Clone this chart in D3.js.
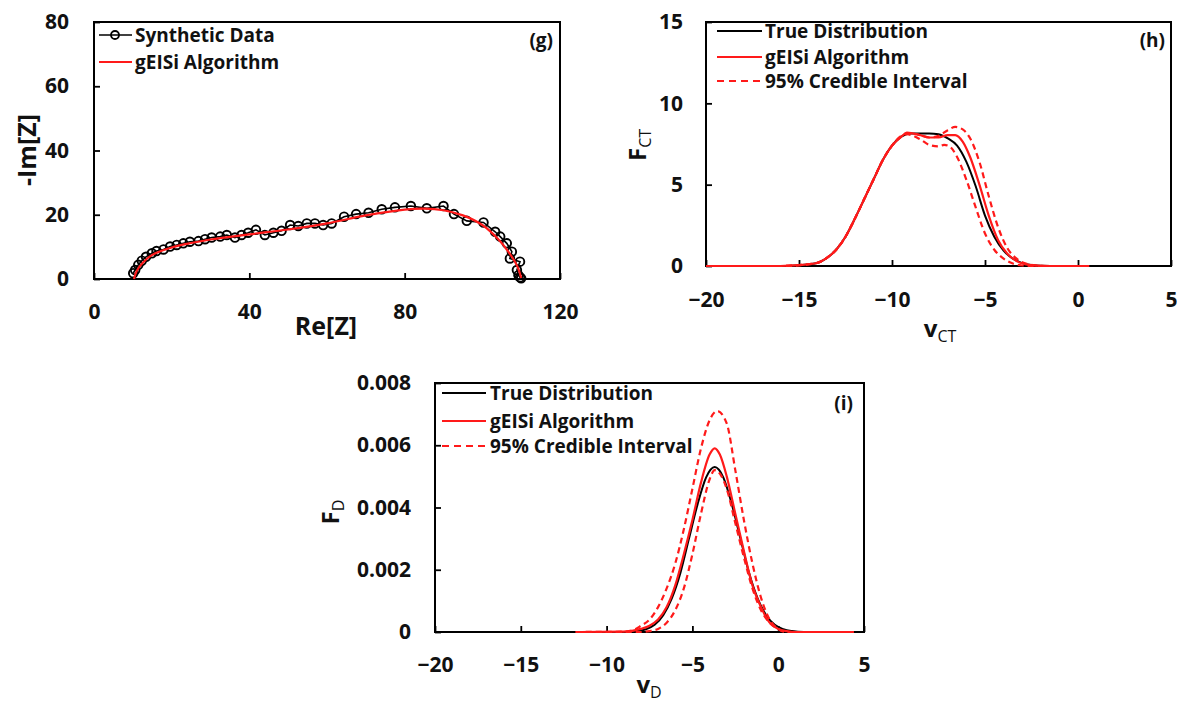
<!DOCTYPE html>
<html><head><meta charset="utf-8">
<script src="https://cdn.jsdelivr.net/npm/d3@7"></script>
<style>
body{margin:0;background:#fff;}
svg{display:block;font-family:"Open Sans",sans-serif;font-weight:700;}
</style></head>
<body><svg id="c" width="1177" height="704"></svg>
<script>
// ---------- Panel (g): Nyquist ----------
const gSynthRe = [10.1,10.6,11.4,12.3,13.4,14.9,16.1,17.9,19.6,21.3,23.0,24.7,26.9,28.6,30.3,32.5,34.2,36.3,38.0,39.7,41.7,44.0,46.2,48.3,50.5,52.6,54.8,56.9,59.0,61.2,64.4,67.5,70.7,74.1,77.5,81.6,85.7,90.0,92.7,96.0,100.3,103.3,104.6,106.3,107.6,107.1,109.7,108.9,109.3,109.7,110.0];
const gSynthIm = [1.8,2.8,4.4,5.7,6.9,8.0,8.7,9.2,10.1,10.6,11.1,11.6,11.8,12.4,12.9,13.2,13.7,12.9,13.7,14.4,15.3,13.7,14.4,15.0,16.8,16.5,17.3,17.3,16.8,17.3,19.4,20.2,20.6,21.7,22.3,22.7,22.0,22.7,20.2,18.1,17.6,14.7,13.2,11.1,8.5,6.4,5.4,2.8,1.2,0.5,0.2];
const gFitRe = [10.3,11.0,12.5,15,20,25,30,40,50,60,70,80,85,90,95,100,104,107,109,110];
const gFitIm = [0,2.5,5.0,7.5,9.8,11.2,12.3,13.9,15.4,17.3,19.8,21.6,21.9,21.4,19.8,16.8,12.5,8.0,4.0,0.3];
const gXTicks = [0,40,80,120];
const gYTicks = [0,20,40,60,80];

// ---------- Panel (h): F_CT ----------
const hTrueV = [-16,-15,-14,-13.5,-13,-12.5,-12,-11.5,-11,-10.5,-10,-9.5,-9,-8.5,-8,-7.5,-7,-6.5,-6,-5.5,-5,-4.5,-4,-3.5,-3,-2.5,-2,-1.5];
const hTrueF = [0,0.05,0.2,0.5,1.0,1.8,2.9,4.1,5.3,6.5,7.4,7.95,8.15,8.15,8.15,8.1,7.85,7.4,6.4,4.9,3.1,1.8,0.95,0.45,0.18,0.06,0.01,0];
const hFitV = [-20,-16,-15,-14,-13.5,-13,-12.5,-12,-11.5,-11,-10.5,-10,-9.5,-9.2,-8.5,-8,-7.5,-7,-6.6,-6.2,-5.8,-5.3,-4.8,-4.3,-3.8,-3.3,-2.8,-2.2,-1.5,0.6];
const hFitF = [0,0,0.05,0.2,0.5,1.0,1.8,2.9,4.1,5.3,6.5,7.4,7.95,8.2,8.05,7.9,7.9,8.05,8.05,7.65,6.7,5.0,3.1,1.6,0.75,0.3,0.1,0.02,0,0];
const hUpV = [-20,-16,-15,-14,-13.5,-13,-12.5,-12,-11.5,-11,-10.5,-10,-9.5,-9,-8.5,-8,-7.5,-7,-6.6,-6.2,-5.8,-5.3,-4.8,-4.3,-3.8,-3.3,-2.8,-2.3,-1.5,0.6];
const hUpF = [0,0,0.05,0.2,0.5,1.0,1.8,2.9,4.1,5.3,6.5,7.4,8.0,8.15,8.05,7.9,8.0,8.35,8.55,8.4,7.85,6.4,4.3,2.4,1.1,0.45,0.15,0.04,0,0];
const hLoV = [-20,-16,-15,-14,-13.5,-13,-12.5,-12,-11.5,-11,-10.5,-10,-9.5,-9.2,-8.5,-8,-7.5,-7.2,-6.9,-6.5,-6,-5.5,-5,-4.5,-4,-3.5,-3,-2.5,0.6];
const hLoF = [0,0,0.05,0.2,0.5,1.0,1.8,2.9,4.1,5.3,6.5,7.4,7.95,8.1,7.8,7.45,7.35,7.45,7.35,6.7,5.3,3.6,2.0,1.0,0.45,0.15,0.03,0,0];
const hXTicks = [-20,-15,-10,-5,0,5];
const hYTicks = [0,5,10,15];

// ---------- Panel (i): F_D ----------
const iTrueV = [-11.8,-9,-8.2,-7.7,-7.2,-6.7,-6.2,-5.7,-5.2,-4.7,-4.2,-3.7,-3.2,-2.7,-2.2,-1.7,-1.2,-0.7,-0.2,0.3,0.8,1.5,4.4];
const iTrueF = [0,0,0.00003,0.00009,0.00023,0.00054,0.00108,0.0019,0.0030,0.0041,0.00497,0.0053,0.00497,0.0041,0.0030,0.0019,0.00108,0.00054,0.00023,0.00009,0.00003,0,0];
const iFitV = [-11.8,-9,-8,-7.5,-7,-6.5,-6,-5.5,-5,-4.5,-4,-3.7,-3.4,-3,-2.5,-2,-1.5,-1,-0.5,0,0.5,1,4.4];
const iFitF = [0,0.00001,0.0001,0.0002,0.0004,0.0008,0.0015,0.0025,0.0036,0.0048,0.0057,0.0059,0.0057,0.0050,0.0038,0.0026,0.0015,0.0008,0.0003,0.0001,0.00003,0,0];
const iUpV = [-11.8,-9,-8.5,-8,-7.5,-7,-6.5,-6,-5.5,-5,-4.5,-4,-3.55,-3,-2.5,-2,-1.5,-1,-0.5,0,0.5,4.4];
const iUpF = [0,0.00001,0.00005,0.0002,0.0004,0.0008,0.0014,0.0022,0.0033,0.0046,0.0059,0.0068,0.0071,0.0067,0.0052,0.0036,0.0022,0.0011,0.0004,0.0001,0,0];
const iLoV = [-11.8,-8,-7.5,-7,-6.5,-6,-5.5,-5,-4.5,-4,-3.7,-3.3,-3,-2.5,-2,-1.5,-1,-0.5,0,0.5,4.4];
const iLoF = [0,0,0.00003,0.0001,0.0003,0.0007,0.0014,0.0025,0.0038,0.0049,0.0052,0.0050,0.0046,0.0035,0.0024,0.0014,0.0007,0.0003,0.0001,0,0];
const iXTicks = [-20,-15,-10,-5,0,5];
const iYTicks = [0,0.002,0.004,0.006,0.008];

const legendDist = ["True Distribution","gEISi Algorithm","95% Credible Interval"];
const legendG = ["Synthetic Data","gEISi Algorithm"];

const RED = "#ff1a1a";
const FONT = "Open Sans";
const svg = d3.select("#c");
const zip = (a,b) => a.map((v,k)=>[v,b[k]]);

function frame(p){
  const g = svg.append("g");
  const [x0,x1] = p.x.range(), [y0,y1] = p.y.range();
  const ax = g.append("g").attr("transform",`translate(0,${y0})`)
    .call(d3.axisBottom(p.x).tickValues(p.xt).tickSizeInner(-6).tickSizeOuter(0).tickPadding(p.xpad).tickFormat(p.xf||d3.format("d")));
  const ay = g.append("g").attr("transform",`translate(${x0},0)`)
    .call(d3.axisLeft(p.y).tickValues(p.yt).tickSizeInner(-6).tickSizeOuter(0).tickPadding(p.ypad).tickFormat(p.yf||d3.format("d")));
  [ax,ay].forEach(a=>{
    a.select(".domain").remove();
    a.selectAll("line").attr("stroke","#000").attr("stroke-width",1.8);
    a.selectAll("text").attr("font-size",21).attr("font-family",FONT).attr("font-weight",700).attr("fill","#111");
  });
  g.append("rect").attr("x",x0).attr("y",y1).attr("width",x1-x0).attr("height",y0-y1)
    .attr("fill","none").attr("stroke","#000").attr("stroke-width",2);
  return g;
}

function curve(p, xs, ys, color, dash, w){
  const line = d3.line().x(d=>p.x(d[0])).y(d=>p.y(d[1])).curve(d3.curveMonotoneX);
  svg.append("path").datum(zip(xs,ys)).attr("d",line).attr("fill","none")
    .attr("stroke",color).attr("stroke-width",w||2.2).attr("stroke-dasharray",dash||null);
}

// ----- g -----
const pg = {x:d3.scaleLinear([0,120],[94,560]), y:d3.scaleLinear([0,80],[279,22]), xt:gXTicks, yt:gYTicks, xpad:25, ypad:25};
frame(pg);
const synth = zip(gSynthRe,gSynthIm);
svg.append("path").datum(synth).attr("d",d3.line().x(d=>pg.x(d[0])).y(d=>pg.y(d[1])))
  .attr("fill","none").attr("stroke","#000").attr("stroke-width",1.6);
svg.append("g").selectAll("circle").data(synth).join("circle")
  .attr("cx",d=>pg.x(d[0])).attr("cy",d=>pg.y(d[1])).attr("r",4.3)
  .attr("fill","none").attr("stroke","#000").attr("stroke-width",1.9);
svg.append("path").datum(zip(gFitRe,gFitIm))
  .attr("d",d3.line().x(d=>pg.x(d[0])).y(d=>pg.y(d[1])).curve(d3.curveCatmullRom))
  .attr("fill","none").attr("stroke",RED).attr("stroke-width",2.2);

// ----- h -----
const ph = {x:d3.scaleLinear([-20,5],[706,1171]), y:d3.scaleLinear([0,15],[266,22]), xt:hXTicks, yt:hYTicks, xpad:26, ypad:23};
frame(ph);
curve(ph,hTrueV,hTrueF,"#000",null,2);
curve(ph,hUpV,hUpF,RED,"6,4",2.2);
curve(ph,hLoV,hLoF,RED,"6,4",2.2);
curve(ph,hFitV,hFitF,RED,null,2.2);

// ----- i -----
const pi = {x:d3.scaleLinear([-20,5],[435,864]), y:d3.scaleLinear([0,0.008],[632,383]), xt:iXTicks, yt:iYTicks, xpad:25, ypad:24,
  yf:d=> d===0 ? "0" : d3.format(".3f")(d)};
frame(pi);
curve(pi,iTrueV,iTrueF,"#000",null,2);
curve(pi,iUpV,iUpF,RED,"6,4",2.2);
curve(pi,iLoV,iLoF,RED,"6,4",2.2);
curve(pi,iFitV,iFitF,RED,null,2.2);

// ----- legends -----
function txt(x,y,s,size,anchor){
  return svg.append("text").attr("x",x).attr("y",y).attr("font-size",size).attr("font-family",FONT)
    .attr("font-weight",700).attr("fill","#111").attr("text-anchor",anchor||"start").attr("dominant-baseline","central").text(s);
}
svg.append("line").attr("x1",99).attr("x2",132).attr("y1",35).attr("y2",35).attr("stroke","#000").attr("stroke-width",1.6);
svg.append("circle").attr("cx",115).attr("cy",35).attr("r",4).attr("fill","none").attr("stroke","#000").attr("stroke-width",1.8);
txt(135,35,legendG[0],19);
svg.append("line").attr("x1",99).attr("x2",132).attr("y1",62).attr("y2",62).attr("stroke",RED).attr("stroke-width",2.2);
txt(135,62,legendG[1],19);
txt(553,40,"(g)",19,"end");

function distLegend(lx0,lx1,tx,ys){
  const styles = [["#000",null],[RED,null],[RED,"7,5"]];
  ys.forEach((y,k)=>{
    svg.append("line").attr("x1",lx0).attr("x2",lx1).attr("y1",y).attr("y2",y)
      .attr("stroke",styles[k][0]).attr("stroke-width",k===0?2:2.2).attr("stroke-dasharray",styles[k][1]);
    txt(tx,y,legendDist[k],19);
  });
}
distLegend(717,762,765,[31,57,81]);
txt(1165,40,"(h)",19,"end");
distLegend(442,486,490,[393,421,446]);
txt(853,403,"(i)",19,"end");

// ----- axis titles -----
svg.append("text").attr("transform","translate(36,150) rotate(-90)").attr("text-anchor","middle")
  .attr("font-size",25).attr("font-family",FONT).attr("font-weight",700).attr("fill","#111").text("-Im[Z]");
svg.append("text").attr("x",326).attr("y",335).attr("text-anchor","middle")
  .attr("font-size",25).attr("font-family",FONT).attr("font-weight",700).attr("fill","#111").text("Re[Z]");

function subLabel(x,y,main,sub,rot){
  const t = svg.append("text").attr("font-family",FONT).attr("font-weight",700).attr("fill","#111")
    .attr("text-anchor","middle")
    .attr("transform",`translate(${x},${y})`+(rot?" rotate(-90)":""));
  t.append("tspan").attr("font-size",24).text(main);
  t.append("tspan").attr("font-size",16).attr("font-weight",400).attr("dy",5).text(sub);
}
subLabel(646,145,"F","CT",true);
subLabel(940,337,"v","CT",false);
subLabel(339,512,"F","D",true);
subLabel(649,693,"v","D",false);
</script></body></html>
